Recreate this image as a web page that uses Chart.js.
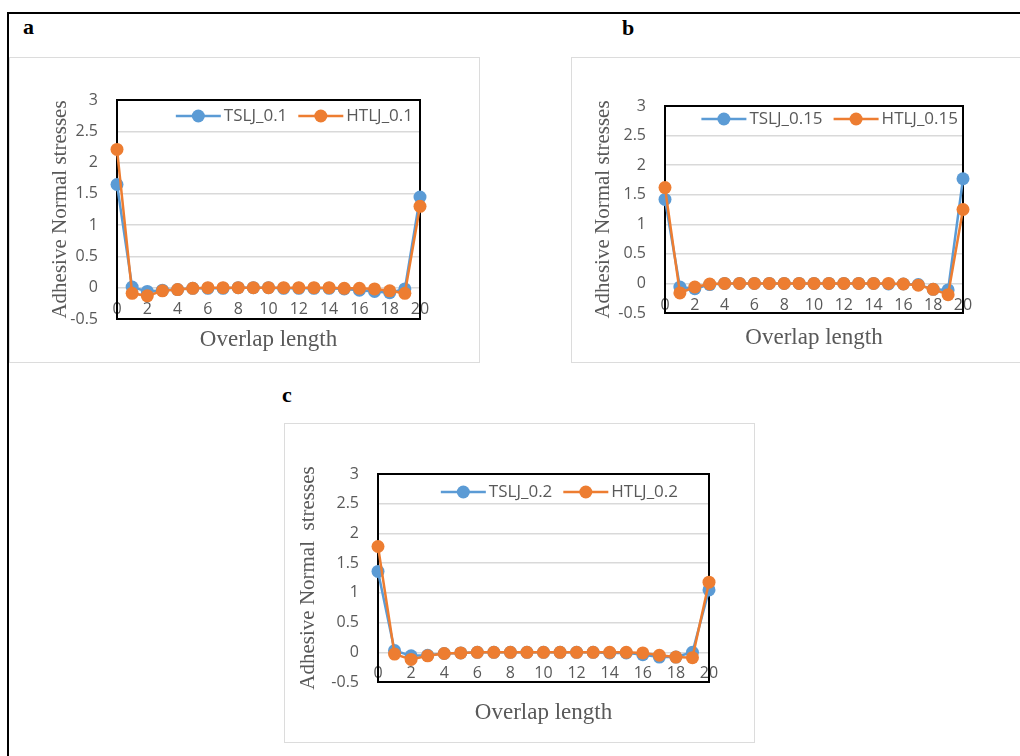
<!DOCTYPE html>
<html>
<head>
<meta charset="utf-8">
<script src="https://cdn.jsdelivr.net/npm/chart.js@4.4.1/dist/chart.umd.min.js"></script>
<style>
  body { margin: 0; background: #fff; width: 1020px; height: 756px; overflow: hidden; position: relative; }
  .frame { position: absolute; left: 7px; top: 12px; width: 1100px; height: 800px; border-left: 2px solid #000; border-top: 2px solid #000; }
  .box { position: absolute; border: 1px solid #dcdcdc; box-sizing: border-box; }
  .tag { position: absolute; font: bold 22px 'Liberation Serif', 'Times New Roman', serif; line-height: 22px; color: #000; }
  canvas { position: absolute; }
</style>
</head>
<body>
<div class="frame"></div>
<div class="box" style="left:9px;top:57px;width:471px;height:306px"></div>
<div class="box" style="left:571px;top:57px;width:500px;height:306px"></div>
<div class="box" style="left:284px;top:423px;width:471px;height:320px"></div>
<div class="tag" style="left:23px;top:16px">a</div>
<div class="tag" style="left:622px;top:17px">b</div>
<div class="tag" style="left:282px;top:384px">c</div>
<canvas id="chartA"></canvas>
<canvas id="chartB"></canvas>
<canvas id="chartC"></canvas>
<script>
const positions = [0, 1, 2, 3, 4, 5, 6, 7, 8, 9, 10, 11, 12, 13, 14, 15, 16, 17, 18, 19, 20];
const xTicks = [0, 2, 4, 6, 8, 10, 12, 14, 16, 18, 20];
const yTicks = [-0.5, 0, 0.5, 1, 1.5, 2, 2.5, 3];

const tslj01 = [1.65, 0.01, -0.06, -0.04, -0.03, -0.01, -0.01, -0.01, 0, 0, 0, -0.01, -0.01, -0.01, -0.01, -0.02, -0.04, -0.06, -0.08, -0.02, 1.45];
const htlj01 = [2.21, -0.09, -0.13, -0.05, -0.03, -0.01, 0, 0, 0, 0, 0, 0, 0, 0, 0, -0.01, -0.01, -0.02, -0.05, -0.09, 1.3];

const tslj015 = [1.42, -0.06, -0.09, -0.02, 0, 0, 0, 0, 0, 0, 0, 0, 0, 0, 0, -0.01, -0.01, -0.02, -0.1, -0.11, 1.77];
const htlj015 = [1.62, -0.16, -0.06, -0.01, 0, 0, 0, 0, 0, 0, 0, 0, 0, 0, 0, 0, -0.01, -0.03, -0.1, -0.19, 1.25];

const tslj02 = [1.36, 0.03, -0.06, -0.05, -0.02, -0.01, 0, 0, 0, 0, 0, 0, 0, 0, -0.01, -0.01, -0.04, -0.08, -0.08, 0, 1.05];
const htlj02 = [1.78, -0.03, -0.12, -0.06, -0.02, -0.01, 0, 0, 0, 0, 0, 0, 0, 0, 0, 0, -0.01, -0.05, -0.08, -0.09, 1.18];

const BLUE = '#5b9bd5';
const ORANGE = '#ed7d31';
const GREY = '#595959';

Chart.defaults.font.family = "'Open Sans', sans-serif";
Chart.defaults.color = GREY;

// black frame round the plot area
const plotFrame = {
  id: 'plotFrame',
  beforeDatasetsDraw(chart) {
    const { ctx, chartArea: a } = chart;
    ctx.save();
    ctx.strokeStyle = '#000';
    ctx.lineWidth = 2;
    ctx.strokeRect(a.left, a.top, a.right - a.left, a.bottom - a.top);
    ctx.restore();
  }
};

// Excel style legend sitting inside the plot, top right
const innerLegend = {
  id: 'innerLegend',
  afterDraw(chart, args, opts) {
    const { ctx, chartArea: a } = chart;
    ctx.save();
    ctx.font = "17px 'Open Sans', sans-serif";
    ctx.textBaseline = 'middle';
    const sets = chart.data.datasets;
    const lineLen = 45, gap = 3, between = 11;
    let total = 0;
    sets.forEach((d, i) => { total += lineLen + gap + ctx.measureText(d.label).width + (i ? between : 0); });
    let x = a.right - opts.right - total;
    const y = a.top + opts.top;
    sets.forEach(d => {
      ctx.strokeStyle = d.borderColor;
      ctx.lineWidth = 2.5;
      ctx.beginPath();
      ctx.moveTo(x, y);
      ctx.lineTo(x + lineLen, y);
      ctx.stroke();
      ctx.fillStyle = d.borderColor;
      ctx.beginPath();
      ctx.arc(x + lineLen / 2, y, 6.5, 0, Math.PI * 2);
      ctx.fill();
      ctx.fillStyle = GREY;
      ctx.fillText(d.label, x + lineLen + gap, y);
      x += lineLen + gap + ctx.measureText(d.label).width + between;
    });
    ctx.restore();
  }
};

function buildPanel(id, g, names, tslj, htlj) {
  const xTitleSize = 23, xLh = xTitleSize * 1.2;
  const yTitleSize = 21, yLh = yTitleSize * 1.2;
  const padTop = 30, padRight = 30;
  const cl = g.yTitleX - 20;
  const ct = g.plotT - padTop;
  const cr = g.plotR + padRight;
  const cb = Math.ceil(g.xTitleY + xLh / 2) + 2;
  const canvas = document.getElementById(id);
  canvas.width = cr - cl;
  canvas.height = cb - ct;
  canvas.style.left = cl + 'px';
  canvas.style.top = ct + 'px';

  new Chart(canvas, {
    type: 'line',
    data: {
      datasets: [
        {
          label: names[0],
          data: positions.map((p, i) => ({ x: p, y: tslj[i] })),
          borderColor: BLUE,
          backgroundColor: BLUE,
          order: 1
        },
        {
          label: names[1],
          data: positions.map((p, i) => ({ x: p, y: htlj[i] })),
          borderColor: ORANGE,
          backgroundColor: ORANGE,
          order: 0
        }
      ]
    },
    options: {
      responsive: false,
      animation: false,
      devicePixelRatio: 1,
      layout: { padding: { left: 0, top: padTop, right: padRight, bottom: cb - (g.xTitleY + xLh / 2) } },
      elements: {
        line: { borderWidth: 2.5, tension: 0 },
        point: { radius: 6.5, borderWidth: 0, hoverRadius: 6.5 }
      },
      datasets: { line: { clip: false } },
      scales: {
        x: {
          type: 'linear',
          position: { y: 0 },
          min: 0,
          max: 20,
          afterBuildTicks: s => { s.ticks = xTicks.map(v => ({ value: v })); },
          grid: { display: false, drawTicks: false },
          border: { display: false },
          ticks: { font: { size: 16 }, padding: 12, color: GREY, maxRotation: 0 }
        },
        xt: {
          axis: 'x',
          type: 'linear',
          position: 'bottom',
          grid: { display: false, drawTicks: false },
          border: { display: false },
          ticks: { display: false },
          title: {
            display: true,
            text: 'Overlap length',
            color: GREY,
            font: { family: "'Liberation Serif', 'Times New Roman', serif", size: xTitleSize },
            padding: { top: g.xTitleY - g.plotB - xLh / 2, bottom: 0 }
          }
        },
        y: {
          position: 'left',
          min: -0.5,
          max: 3,
          afterBuildTicks: s => { s.ticks = yTicks.map(v => ({ value: v })); },
          afterFit: s => { s.width = g.plotL - cl; },
          grid: { color: '#d9d9d9', lineWidth: 1.5, drawTicks: false },
          border: { display: false },
          ticks: { font: { size: 16 }, padding: 19, color: GREY, callback: v => String(v) },
          title: {
            display: true,
            text: g.yTitle,
            color: GREY,
            font: { family: "'Liberation Serif', 'Times New Roman', serif", size: yTitleSize },
            padding: { top: 20 - yLh / 2, bottom: 0 }
          }
        }
      },
      plugins: {
        legend: { display: false },
        tooltip: { enabled: false },
        innerLegend: { top: g.legendY - g.plotT, right: g.legendRight }
      }
    },
    plugins: [plotFrame, innerLegend]
  });
}

buildPanel('chartA',
  { plotL: 117, plotT: 100, plotR: 420, plotB: 319, yTitleX: 60, xTitleY: 340, legendY: 116, legendRight: 7, yTitle: 'Adhesive Normal stresses' },
  ['TSLJ_0.1', 'HTLJ_0.1'], tslj01, htlj01);

buildPanel('chartB',
  { plotL: 665, plotT: 106, plotR: 963, plotB: 313, yTitleX: 603, xTitleY: 338, legendY: 119, legendRight: 5, yTitle: 'Adhesive Normal stresses' },
  ['TSLJ_0.15', 'HTLJ_0.15'], tslj015, htlj015);

buildPanel('chartC',
  { plotL: 378, plotT: 474, plotR: 709, plotB: 682, yTitleX: 308, xTitleY: 713, legendY: 492, legendRight: 31, yTitle: 'Adhesive Normal  stresses' },
  ['TSLJ_0.2', 'HTLJ_0.2'], tslj02, htlj02);
</script>
</body>
</html>
